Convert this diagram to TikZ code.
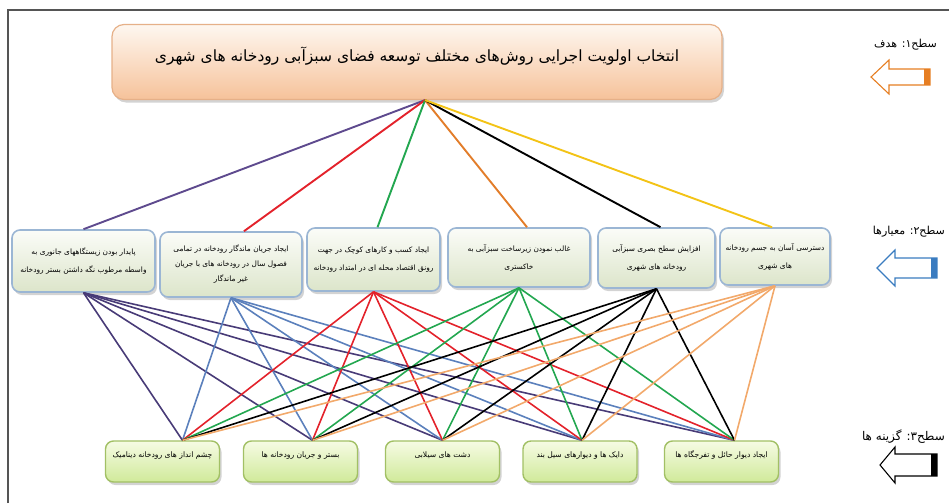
\documentclass[tikz,border=0pt]{standalone}
\usepackage{fontspec}
\usepackage{xcolor}
\usepackage{tikz}
\usetikzlibrary{shadows}
\TeXXeTstate=1
\newfontfamily\farsi[Script=Arabic]{DejaVu Sans}
\newcommand{\rl}[1]{\beginR #1\endR}

\definecolor{framegray}{HTML}{555555}
\definecolor{goaledge}{HTML}{E6B088}
\definecolor{goaltop}{HTML}{FEF7F0}
\definecolor{goalbot}{HTML}{F6C29A}
\definecolor{critedge}{HTML}{9BB6D4}
\definecolor{crittop}{HTML}{FBFCF8}
\definecolor{critbot}{HTML}{DCE5CA}
\definecolor{optedge}{HTML}{A2C065}
\definecolor{opttop}{HTML}{F6FBE4}
\definecolor{optbot}{HTML}{D0EA9A}
\definecolor{lpurple}{HTML}{5E4A8E}
\definecolor{lred}{HTML}{E3222B}
\definecolor{lgreen}{HTML}{23A750}
\definecolor{lorange}{HTML}{E27D2A}
\definecolor{lyellow}{HTML}{F3C316}
\definecolor{ldpurple}{HTML}{483B77}
\definecolor{lblue}{HTML}{5B80BC}
\definecolor{llorange}{HTML}{F2A96B}
\definecolor{arrowor}{HTML}{E67E22}
\definecolor{arrowbl}{HTML}{3A7CC0}

\begin{document}
\begin{tikzpicture}[x=1pt,y=-1pt,font=\farsi,
    goalbox/.style={draw=goaledge,line width=1.2pt,rounded corners=12pt,
        top color=goaltop,bottom color=goalbot,text depth=16pt,
        drop shadow={opacity=0.35,shadow xshift=2pt,shadow yshift=-3pt},
        font=\farsi\fontsize{15.5}{19}\selectfont},
    critbox/.style={draw=critedge,line width=1.6pt,rounded corners=8pt,
        top color=crittop,bottom color=critbot,align=center,
        drop shadow={opacity=0.35,shadow xshift=2pt,shadow yshift=-3pt},
        font=\farsi\fontsize{7.4}{18}\selectfont},
    optbox/.style={draw=optedge,line width=1.4pt,rounded corners=8pt,
        top color=opttop,bottom color=optbot,
        minimum height=41,text height=8pt,text depth=16pt,
        drop shadow={opacity=0.35,shadow xshift=2pt,shadow yshift=-3pt},
        font=\farsi\fontsize{7.6}{9}\selectfont},
    lvltext/.style={anchor=east,inner sep=0pt,font=\farsi\fontsize{11}{13}\selectfont},
    link/.style={line width=1.6pt}]
    \useasboundingbox (0,0) rectangle (949,503);

    \draw[framegray,line width=2pt] (8,503) -- (8,10) -- (949,10);

    \node[goalbox,minimum width=610,minimum height=75] (goal) at (417,62)
        {\rl{انتخاب اولویت اجرایی روش‌های مختلف توسعه فضای سبزآبی رودخانه های شهری}};

    \node[critbox,minimum width=143,minimum height=62] (c1) at (83.5,261)
        {\rl{پایدار بودن زیستگاههای جانوری به}\\\rl{واسطه مرطوب نگه داشتن بستر رودخانه}};
    \node[critbox,minimum width=142,minimum height=65,font=\farsi\fontsize{7.4}{15}\selectfont] (c2) at (231,264.5)
        {\rl{ایجاد جریان ماندگار رودخانه در تمامی}\\\rl{فصول سال در رودخانه های با جریان}\\\rl{غیر ماندگار}};
    \node[critbox,minimum width=133,minimum height=63] (c3) at (373.5,259.5)
        {\rl{ایجاد کسب و کارهای کوچک در جهت}\\\rl{رونق اقتصاد محله ای در امتداد رودخانه}};
    \node[critbox,minimum width=142,minimum height=59] (c4) at (519,257.5)
        {\rl{غالب نمودن زیرساخت سبزآبی به}\\\rl{خاکستری}};
    \node[critbox,minimum width=117,minimum height=60] (c5) at (656.5,258)
        {\rl{افزایش سطح بصری سبزآبی}\\\rl{رودخانه های شهری}};
    \node[critbox,minimum width=110,minimum height=57] (c6) at (775,256.5)
        {\rl{دسترسی آسان به جسم رودخانه}\\\rl{های شهری}};

    \foreach [count=\i] \cx/\txt in {162.5/{چشم انداز های رودخانه دینامیک},
        300.5/{بستر و جریان رودخانه ها},442.5/{دشت های سیلابی},
        580/{دایک ها و دیوارهای سیل بند},721.5/{ایجاد دیوار حائل و تفرجگاه ها}} {
        \node[optbox,minimum width=114] (o\i) at (\cx,461.5) {\rl{\txt}};
    }

    \foreach \c/\col/\dx in {c1/lpurple/0,c2/lred/13,c3/lgreen/4,
        c4/lorange/8,c5/black/4,c6/lyellow/-3} {
        \draw[link,line width=1.9pt,\col] ([xshift=8]goal.south) -- ([xshift=\dx]\c.north);
    }

    \foreach \c/\col in {c1/ldpurple,c2/lblue,c3/lred,c4/lgreen,c5/black,c6/llorange} {
        \foreach \o/\dx in {o1/20,o2/12,o3/0,o4/2,o5/13} {
            \draw[link,\col] (\c.south) -- ([xshift=\dx]\o.north);
        }
    }

    \node[lvltext] (l1) at (937,45) {\rl{سطح۱: هدف}};
    \node[lvltext] (l2) at (945,232) {\rl{سطح۲: معیارها}};
    \node[lvltext,font=\farsi\fontsize{12}{14}\selectfont] (l3) at (945,437) {\rl{سطح۳: گزینه ها}};

    \newcommand{\levelarrow}[7]{%
        \draw[#1,line width=1.1pt,fill=white]
            (#2,#5) -- (#3,{#5-#6}) -- (#3,{#5-#7}) -- (#4,{#5-#7})
            -- (#4,{#5+#7}) -- (#3,{#5+#7}) -- (#3,{#5+#6}) -- cycle;
        \fill[#1] ({#4-6},{#5-#7}) rectangle (#4,{#5+#7});
    }
    \levelarrow{arrowor}{871}{889}{930}{77}{17}{8}
    \levelarrow{arrowbl}{877}{895}{937}{268}{18}{10}
    \levelarrow{black}{880}{895}{937}{465}{18}{11}
\end{tikzpicture}
\end{document}
